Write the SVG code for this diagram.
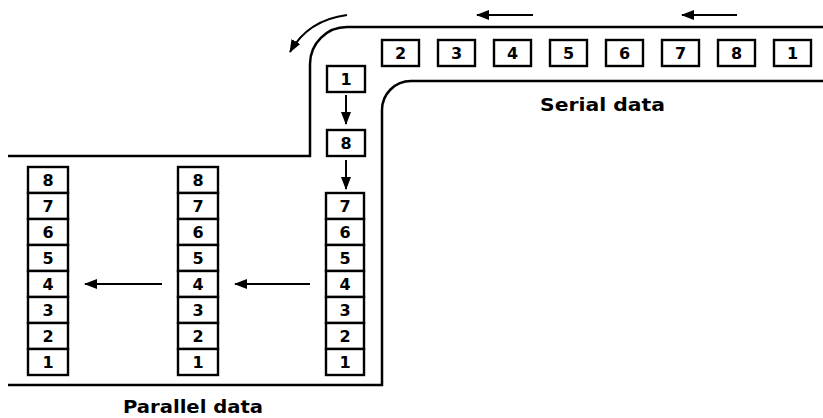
<svg xmlns="http://www.w3.org/2000/svg" width="823" height="418" viewBox="0 0 823 418">
<style>
.box{fill:#fff;stroke:#000;stroke-width:2.4}
.num{font-family:"DejaVu Sans","Liberation Sans",Arial,sans-serif;font-weight:bold;font-size:16px;text-anchor:middle;fill:#000}
.lbl{font-family:"DejaVu Sans","Liberation Sans",Arial,sans-serif;font-weight:bold;font-size:17px;fill:#000}
.wall{fill:none;stroke:#000;stroke-width:2.5}
.arr{fill:none;stroke:#000;stroke-width:2;marker-end:url(#ah)}
</style>
<defs>
<marker id="ah" markerUnits="userSpaceOnUse" markerWidth="14" markerHeight="12" refX="12" refY="5" orient="auto">
<path d="M0,0 L13,5 L0,10 Z" fill="#000"/>
</marker>
</defs>
<rect width="823" height="418" fill="#fff"/>
<g id="channel">
<path class="wall" d="M823,27 H347 A37,37 0 0 0 310,64 V156 H8"/>
<path class="wall" d="M823,81 H411 A29,29 0 0 0 382,110 V385 H8"/>
</g>
<g id="serial">
<rect class="box" x="382" y="40" width="37" height="26"/><text class="num" x="400.5" y="59">2</text>
<rect class="box" x="438" y="40" width="37" height="26"/><text class="num" x="456.5" y="59">3</text>
<rect class="box" x="494" y="40" width="37" height="26"/><text class="num" x="512.5" y="59">4</text>
<rect class="box" x="550" y="40" width="37" height="26"/><text class="num" x="568.5" y="59">5</text>
<rect class="box" x="606" y="40" width="37" height="26"/><text class="num" x="624.5" y="59">6</text>
<rect class="box" x="662" y="40" width="37" height="26"/><text class="num" x="680.5" y="59">7</text>
<rect class="box" x="718" y="40" width="37" height="26"/><text class="num" x="736.5" y="59">8</text>
<rect class="box" x="774" y="40" width="37" height="26"/><text class="num" x="792.5" y="59">1</text>
<text class="lbl" x="540" y="111" textLength="125" lengthAdjust="spacingAndGlyphs">Serial data</text>
</g>
<g id="turn">
<rect class="box" x="327" y="66" width="38" height="26"/><text class="num" x="346" y="85">1</text>
<rect class="box" x="327" y="130" width="38" height="26"/><text class="num" x="346" y="149">8</text>
</g>
<g id="col-right">
<rect class="box" x="326" y="193" width="38" height="26"/><text class="num" x="345" y="212">7</text>
<rect class="box" x="326" y="219" width="38" height="26"/><text class="num" x="345" y="238">6</text>
<rect class="box" x="326" y="245" width="38" height="26"/><text class="num" x="345" y="264">5</text>
<rect class="box" x="326" y="271" width="38" height="26"/><text class="num" x="345" y="290">4</text>
<rect class="box" x="326" y="297" width="38" height="26"/><text class="num" x="345" y="316">3</text>
<rect class="box" x="326" y="323" width="38" height="26"/><text class="num" x="345" y="342">2</text>
<rect class="box" x="326" y="349" width="38" height="26"/><text class="num" x="345" y="368">1</text>
</g>
<g id="col-middle">
<rect class="box" x="178" y="167" width="40" height="26"/><text class="num" x="198" y="186">8</text>
<rect class="box" x="178" y="193" width="40" height="26"/><text class="num" x="198" y="212">7</text>
<rect class="box" x="178" y="219" width="40" height="26"/><text class="num" x="198" y="238">6</text>
<rect class="box" x="178" y="245" width="40" height="26"/><text class="num" x="198" y="264">5</text>
<rect class="box" x="178" y="271" width="40" height="26"/><text class="num" x="198" y="290">4</text>
<rect class="box" x="178" y="297" width="40" height="26"/><text class="num" x="198" y="316">3</text>
<rect class="box" x="178" y="323" width="40" height="26"/><text class="num" x="198" y="342">2</text>
<rect class="box" x="178" y="349" width="40" height="26"/><text class="num" x="198" y="368">1</text>
</g>
<g id="col-left">
<rect class="box" x="28" y="167" width="40" height="26"/><text class="num" x="48" y="186">8</text>
<rect class="box" x="28" y="193" width="40" height="26"/><text class="num" x="48" y="212">7</text>
<rect class="box" x="28" y="219" width="40" height="26"/><text class="num" x="48" y="238">6</text>
<rect class="box" x="28" y="245" width="40" height="26"/><text class="num" x="48" y="264">5</text>
<rect class="box" x="28" y="271" width="40" height="26"/><text class="num" x="48" y="290">4</text>
<rect class="box" x="28" y="297" width="40" height="26"/><text class="num" x="48" y="316">3</text>
<rect class="box" x="28" y="323" width="40" height="26"/><text class="num" x="48" y="342">2</text>
<rect class="box" x="28" y="349" width="40" height="26"/><text class="num" x="48" y="368">1</text>
</g>
<g id="label-parallel">
<text class="lbl" x="123" y="413" textLength="140" lengthAdjust="spacingAndGlyphs">Parallel data</text>
</g>
<g id="connectors">
<path class="arr" d="M533,15 H477"/>
<path class="arr" d="M737,15 H682"/>
<path class="arr" d="M347,15 Q308,20 290,52"/>
<path class="arr" d="M346,95 V124"/>
<path class="arr" d="M346,160 V189"/>
<path class="arr" d="M310,284 H235"/>
<path class="arr" d="M162,284 H85"/>
</g>
</svg>
